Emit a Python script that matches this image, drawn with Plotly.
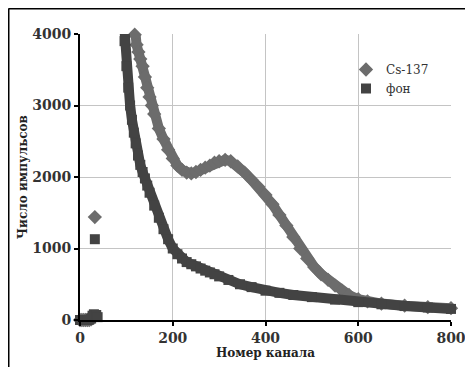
import plotly.graph_objects as go

# ---- data ----
series_names = ["Cs-137", "фон"]

# Cs-137: low channels (before the off-scale region)
cs_low_ch = [0, 4, 8, 12, 16, 20, 24, 28, 32]
cs_low_val = [0, 0, 0, 0, 0, 0, 10, 30, 1440]
# Cs-137: main spectrum (values above 4000 run off the top)
cs_ch = [114, 118, 122, 126, 130, 135, 140, 145, 150, 155, 160, 170, 180, 190, 200,
         210, 220, 230, 240, 250, 260, 270, 280, 290, 300, 313, 325, 340, 355, 370,
         385, 400, 415, 430, 445, 460, 475, 490, 505, 520, 535, 550, 565, 580,
         600, 620, 650, 700, 750, 800]
cs_val = [4400, 3990, 3850, 3750, 3650, 3550, 3400, 3250, 3120, 3000, 2880, 2680, 2530, 2380, 2260,
          2160, 2100, 2060, 2050, 2070, 2100, 2130, 2160, 2200, 2220, 2240, 2220, 2150, 2060, 1960,
          1860, 1750, 1620, 1470, 1320, 1160, 1000, 860, 740, 640, 560, 480, 410, 350,
          290, 260, 230, 200, 180, 165]

# фон (background): low channels
bg_low_ch = [0, 4, 8, 12, 16, 20, 24, 27, 30, 32, 35, 38]
bg_low_val = [0, 0, 0, 0, 0, 5, 20, 60, 80, 1130, 70, 40]
# фон: main spectrum
bg_ch = [92, 96, 100, 104, 108, 112, 116, 120, 125, 130, 135, 140, 145, 150, 160, 170,
         180, 190, 200, 210, 220, 230, 240, 250, 260, 270, 280, 290, 300, 320, 345, 370,
         400, 430, 460, 500, 550, 600, 650, 700, 750, 800]
bg_val = [4400, 3900, 3550, 3250, 3000, 2800, 2620, 2470, 2300, 2170, 2070, 1980, 1880, 1780, 1600, 1430,
          1270, 1130, 1000, 920, 860, 810, 780, 750, 720, 690, 665, 640, 610, 560, 500, 460,
          410, 380, 350, 320, 285, 250, 220, 195, 175, 155]

x_ticks = [0, 200, 400, 600, 800]
y_ticks = [0, 1000, 2000, 3000, 4000]

cs_color = "#6c6c6c"
bg_color = "#434343"

fig = go.Figure()

fig.add_trace(go.Scatter(x=cs_ch, y=cs_val, mode="lines", line=dict(color=cs_color, width=10),
                         showlegend=False, hoverinfo="skip"))
fig.add_trace(go.Scatter(x=cs_low_ch + cs_ch, y=cs_low_val + cs_val, mode="markers",
                         name=series_names[0], cliponaxis=False,
                         marker=dict(symbol="diamond", size=11, color=cs_color)))
fig.add_trace(go.Scatter(x=bg_ch, y=bg_val, mode="lines", line=dict(color=bg_color, width=10),
                         showlegend=False, hoverinfo="skip"))
fig.add_trace(go.Scatter(x=bg_low_ch + bg_ch, y=bg_low_val + bg_val, mode="markers",
                         name=series_names[1], cliponaxis=False,
                         marker=dict(symbol="square", size=10, color=bg_color)))

tick_font = dict(family="DejaVu Serif", size=14, color="#333333", weight=700)
title_font = dict(family="DejaVu Serif", size=12, color="#222222", weight=700)

# figure is placed 8px in from the window corner by the page margin
W, H = 465, 359
L, T, R, B = 72, 26, 22, 47
pw, ph = W - L - R, H - T - B

fig.update_layout(
    template="none",
    width=W, height=H,
    margin=dict(l=L, r=R, t=T, b=B, autoexpand=False),
    paper_bgcolor="white", plot_bgcolor="white",
    showlegend=True,
    legend=dict(x=(338 - L) / pw, y=(ph + T - 47) / ph, xanchor="left", yanchor="top",
                bgcolor="rgba(0,0,0,0)", itemwidth=30, tracegroupgap=0, borderwidth=0,
                font=dict(family="DejaVu Serif", size=12, color="#333333")),
    xaxis=dict(range=[0, 800], tickvals=x_ticks, ticktext=[str(v) for v in x_ticks],
               showgrid=True, gridcolor="#c4c4c4", gridwidth=1, zeroline=False,
               showline=True, linecolor="black", linewidth=2, layer="above traces",
               ticks="outside", ticklen=4, tickcolor="black", tickwidth=2,
               tickfont=tick_font,
               title=dict(text="Номер канала", font=title_font, standoff=4)),
    yaxis=dict(range=[0, 4000], tickvals=y_ticks, ticktext=[str(v) for v in y_ticks],
               showgrid=True, gridcolor="#c4c4c4", gridwidth=1, zeroline=False,
               showline=True, linecolor="black", linewidth=2, layer="above traces",
               ticks="outside", ticklen=4, tickcolor="black", tickwidth=2,
               tickfont=tick_font,
               title=dict(text="Число импульсов", font=title_font, standoff=2)),
    shapes=[
        dict(type="line", xref="paper", yref="paper",
             x0=(0.5 - L) / pw, x1=(W - L) / pw,
             y0=(ph + T - 0.5) / ph, y1=(ph + T - 0.5) / ph,
             line=dict(color="black", width=2)),
        dict(type="line", xref="paper", yref="paper",
             x0=(0.5 - L) / pw, x1=(0.5 - L) / pw,
             y0=(ph + T - 0.5) / ph, y1=(ph + T - H) / ph,
             line=dict(color="black", width=2)),
    ],
)

fig.write_html("out.html")
